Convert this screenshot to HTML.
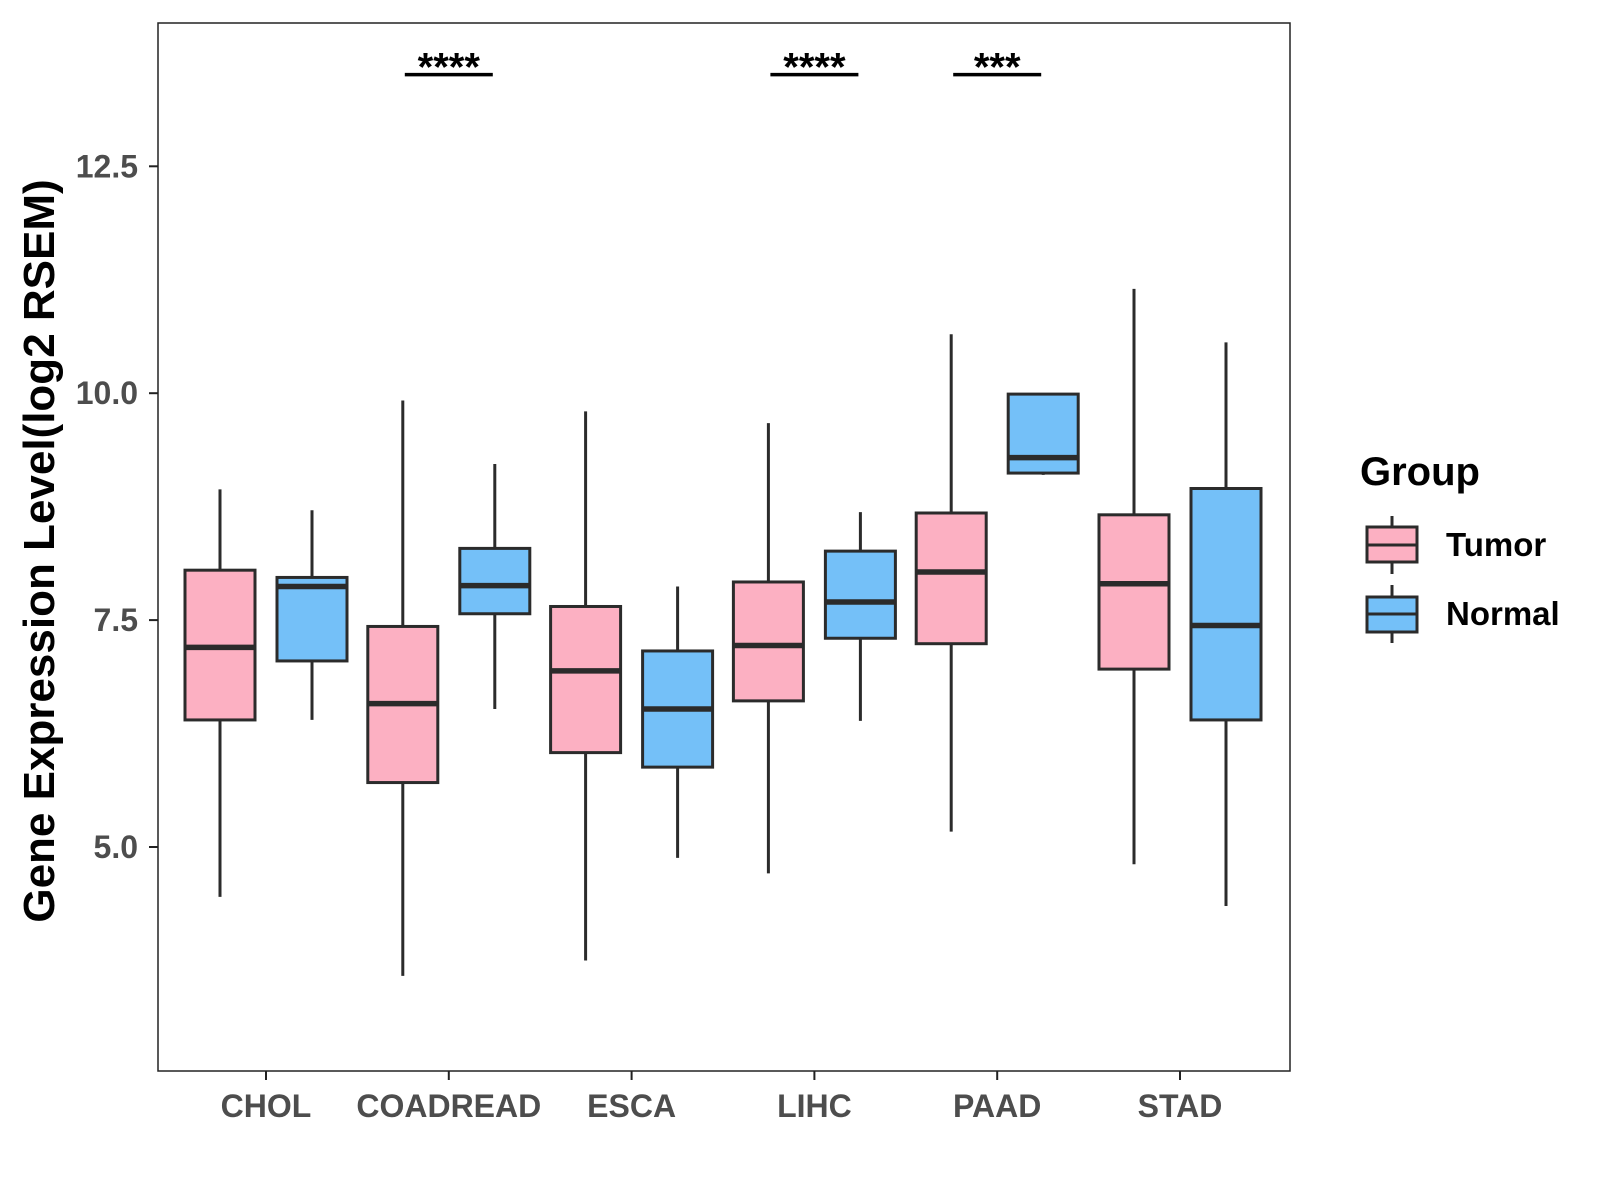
<!DOCTYPE html>
<html><head><meta charset="utf-8"><style>
html,body{margin:0;padding:0;background:#fff;}
svg{display:block;font-family:"Liberation Sans",Arial,sans-serif;}
</style></head><body>
<svg id="chart" width="1600" height="1200" viewBox="0 0 1600 1200">
<rect x="158" y="23" width="1132" height="1048" fill="#fff" stroke="#222" stroke-width="1.5"/>
<g id="marks"></g>
<text transform="translate(54,551) rotate(-90)" text-anchor="middle" font-size="44" font-weight="bold" fill="#000">Gene Expression Level(log2 RSEM)</text>
<g>
<text x="1360" y="485" font-size="40" font-weight="bold" fill="#000">Group</text>
<g>
<line x1="1392" y1="516" x2="1392" y2="574" stroke="#2b2b2b" stroke-width="3"/>
<rect x="1367" y="527" width="50" height="35" fill="#fcb0c2" stroke="#2b2b2b" stroke-width="3"/>
<line x1="1367" y1="545" x2="1417" y2="545" stroke="#2b2b2b" stroke-width="3"/>
<text x="1446" y="556" font-size="33" font-weight="bold">Tumor</text>
</g>
<g>
<line x1="1392" y1="585" x2="1392" y2="643" stroke="#2b2b2b" stroke-width="3"/>
<rect x="1367" y="597" width="50" height="35" fill="#74c0f8" stroke="#2b2b2b" stroke-width="3"/>
<line x1="1367" y1="614" x2="1417" y2="614" stroke="#2b2b2b" stroke-width="3"/>
<text x="1446" y="625" font-size="33" font-weight="bold">Normal</text>
</g>
</g>
</svg>
<script>
const categories = ["CHOL","COADREAD","ESCA","LIHC","PAAD","STAD"];
// [lowerWhisker, q1, median, q3, upperWhisker]
const tumorStats = [
 [4.45,6.40,7.20,8.05,8.94],
 [3.58,5.71,6.58,7.43,9.92],
 [3.75,6.04,6.94,7.65,9.80],
 [4.71,6.61,7.22,7.92,9.67],
 [5.17,7.24,8.03,8.68,10.65],
 [4.81,6.96,7.90,8.66,11.15]
];
const normalStats = [
 [6.40,7.05,7.87,7.97,8.71],
 [6.52,7.57,7.88,8.29,9.22],
 [4.88,5.88,6.52,7.16,7.87],
 [6.39,7.30,7.70,8.26,8.69],
 [9.10,9.12,9.29,9.99,9.99],
 [4.35,6.40,7.44,8.95,10.56]
];
const yTicks = [5.0,7.5,10.0,12.5];
const yTickLabels = ["5.0","7.5","10.0","12.5"];
const sigLabels = ["","****","","****","***",""];
const sigLevel = 13.51;

const NS="http://www.w3.org/2000/svg";
const g=document.getElementById('marks');
function y(v){return 847-(v-5)*(847-166.3)/7.5;}
function x(i){return 266+i*182.8;}
function mk(tag,attrs,parent){const e=document.createElementNS(NS,tag);for(const k in attrs)e.setAttribute(k,attrs[k]);(parent||g).appendChild(e);return e;}
const stroke="#2b2b2b";
yTicks.forEach((t,i)=>{
  const tk=mk('line',{x1:149,x2:158,y1:y(t),y2:y(t),stroke:'#222','stroke-width':2});
  
  
  const tx=mk('text',{x:138,y:y(t)+11,'text-anchor':'end','font-size':32,'font-weight':'bold',fill:'#4d4d4d'});
  tx.textContent=yTickLabels[i];
  
  
});
categories.forEach((c,i)=>{
  const tk=mk('line',{x1:x(i),x2:x(i),y1:1071,y2:1080,stroke:'#222','stroke-width':2});
  
  
  const tx=mk('text',{x:x(i),y:1117,'text-anchor':'middle','font-size':32,'font-weight':'bold',fill:'#4d4d4d'});
  tx.textContent=c;
  
  
  [[tumorStats[i],-46,'#fcb0c2','tumor'],[normalStats[i],46,'#74c0f8','normal']].forEach(([s,off,fill,nm])=>{
    const cx=x(i)+off,w=70;
    const grp=mk('g',{});
    
    
    mk('line',{x1:cx,x2:cx,y1:y(s[0]),y2:y(s[4]),stroke:stroke,'stroke-width':3},grp);
    mk('rect',{x:cx-w/2,y:y(s[3]),width:w,height:y(s[1])-y(s[3]),fill:fill,stroke:stroke,'stroke-width':3},grp);
    mk('line',{x1:cx-w/2,x2:cx+w/2,y1:y(s[2]),y2:y(s[2]),stroke:stroke,'stroke-width':5.5},grp);
  });
  if(sigLabels[i]){
    const sg=mk('g',{});
    
    
    mk('line',{x1:x(i)-44,x2:x(i)+44,y1:y(sigLevel),y2:y(sigLevel),stroke:'#000','stroke-width':3.5},sg);
    const st=mk('text',{x:x(i),y:y(sigLevel)+6,'text-anchor':'middle','font-size':40,'font-weight':'bold',fill:'#000'},sg);
    st.textContent=sigLabels[i];
  }
});
</script>
</body></html>
